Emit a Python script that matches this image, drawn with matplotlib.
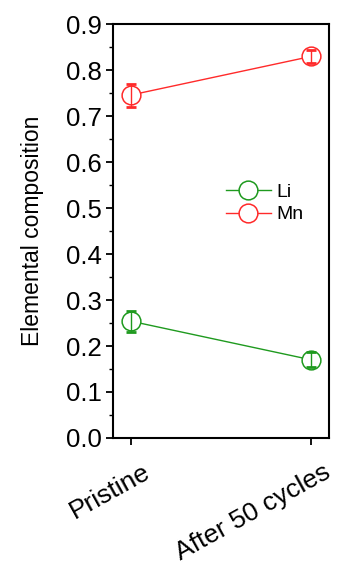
import numpy as np
import matplotlib.pyplot as plt
from matplotlib.ticker import MultipleLocator
import matplotlib.transforms as mtransforms

plt.rcParams['font.family'] = ['Liberation Sans', 'DejaVu Sans']

# ==== DATI ====
samples = ["Pristine", "After 50 cycles"]
li_vals = [0.254, 0.170]
li_err = [0.023, 0.016]
mn_vals = [0.746, 0.830]
mn_err = [0.025, 0.015]

fig = plt.figure(figsize=(3.39, 5.77), dpi=100)
ax = fig.add_axes([0.333, 0.241, 0.638, 0.717])

x = np.arange(len(samples))

for vals, errs, col, lab in [(li_vals, li_err, "#1f9a1f", "Li"),
                             (mn_vals, mn_err, "#ff2a2a", "Mn")]:
    ax.plot(x, vals, "-o", color=col, lw=1.0, ms=13.5, mfc="white",
            mec=col, mew=1.1, label=lab, zorder=2)
    ax.errorbar(x, vals, yerr=errs, fmt="none", ecolor=col, elinewidth=1.0,
                capsize=3.3, capthick=2.0, zorder=3)

ax.set_xlim(-0.1, 1.1)
ax.set_ylim(0, 0.9)
ax.yaxis.set_minor_locator(MultipleLocator(0.05))
ax.set_yticks(np.arange(0, 0.91, 0.1))
ax.set_yticklabels([f"{v:.1f}" for v in np.arange(0, 0.91, 0.1)])
ax.set_xticks(x)

ax.tick_params(axis="both", which="major", direction="out", length=5,
               width=1.3)
ax.tick_params(axis="y", labelsize=18.5, pad=3)
ax.tick_params(axis="x", labelsize=19, pad=11)
ax.tick_params(axis="y", which="minor", direction="out", length=3, width=1.0)

# etichette ruotate, spostate a destra (dopo tick_params che resetta le trasformazioni)
ax.set_xticklabels(samples, rotation=29, ha="right")
offset = mtransforms.ScaledTranslation(23 / 100, 0, fig.dpi_scale_trans)
for lbl in ax.get_xticklabels():
    lbl.set_transform(lbl.get_transform() + offset)

for sp in ax.spines.values():
    sp.set_linewidth(1.5)

ax.set_ylabel("Elemental composition", fontsize=16.5, labelpad=16)

ax.legend(loc="center left", bbox_to_anchor=(0.442, 0.567), frameon=False,
          fontsize=14, handlelength=2.3, handletextpad=0.3, labelspacing=0.25)

fig.savefig("out.png", dpi=100)
